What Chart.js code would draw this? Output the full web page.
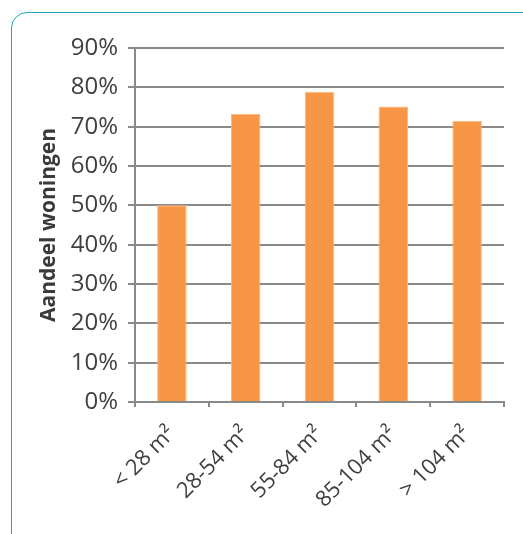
<!DOCTYPE html>
<html>
<head>
<meta charset="utf-8">
<script src="https://cdn.jsdelivr.net/npm/chart.js@4/dist/chart.umd.min.js"></script>
<style>
  html, body { margin: 0; padding: 0; background: #ffffff; overflow: hidden; }
  #frame {
    position: absolute; left: 11px; top: 12px; width: 640px; height: 640px;
    border: 1.5px solid #1aaac0; border-radius: 16px; box-sizing: border-box;
  }
  #wrap { position: absolute; left: 0; top: 0; width: 523px; height: 534px; }
</style>
</head>
<body>
<div id="frame"></div>
<div id="wrap"><canvas id="chart" width="523" height="534"></canvas></div>
<script>
// Woninggrootte-klassen en aandeel woningen per klasse (%)
const categories = ['< 28 m²', '28-54 m²', '55-84 m²', '85-104 m²', '> 104 m²'];
const shareValues = [50.0, 73.3, 78.9, 75.1, 71.5];
const yTicks = [0, 10, 20, 30, 40, 50, 60, 70, 80, 90];

const FONT = '"Open Sans", "DejaVu Sans", sans-serif';
const TEXT = '#404040';
const GRID = '#8a8a8a';

new Chart(document.getElementById('chart'), {
  type: 'bar',
  data: {
    labels: categories,
    datasets: [{
      label: 'Aandeel woningen',
      data: shareValues,
      backgroundColor: '#f79646',
      borderColor: '#fbb57c',
      borderWidth: 1,
      categoryPercentage: 1,
      barPercentage: 0.4
    }]
  },
  options: {
    responsive: false,
    animation: false,
    layout: { padding: { left: 36, right: 19, top: 48, bottom: 0 } },
    plugins: { legend: { display: false }, tooltip: { enabled: false } },
    scales: {
      x: {
        grid: { display: true, drawOnChartArea: false, drawTicks: true, tickLength: 5, color: GRID, lineWidth: 2, offset: true },
        border: { display: true, color: GRID, width: 2 },
        ticks: { color: TEXT, font: { family: FONT, size: 22 }, minRotation: 45, maxRotation: 45, padding: 14 },
        afterFit(scale) { scale.height = 132; }
      },
      y: {
        min: 0, max: 90,
        afterBuildTicks(scale) { scale.ticks = yTicks.map(v => ({ value: v })); },
        grid: { color: GRID, lineWidth: 2, tickLength: 7 },
        border: { display: true, color: GRID, width: 2 },
        ticks: { color: TEXT, font: { family: FONT, size: 24 }, padding: 10, callback: v => v + '%' },
        title: { display: true, text: 'Aandeel woningen', color: '#3a3a3a', font: { family: FONT, size: 21, weight: 'bold' }, padding: { top: 0, bottom: 4 } },
        afterFit(scale) { scale.width = 99; }
      }
    }
  }
});
</script>
</body>
</html>
